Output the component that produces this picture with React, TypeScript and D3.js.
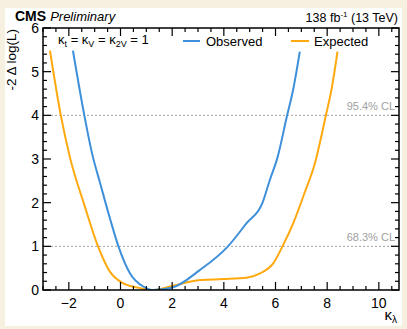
import React from "react";
import * as d3 from "d3";

const observedK = [-1.84, -1.4, -1.09, -0.79, -0.4, -0.08, 0.37, 0.88, 1.27, 1.98, 3.08, 4.16, 4.88, 5.49, 5.78, 6.07, 6.45, 6.68, 6.94];
const observedV = [5.48, 4.0, 3.1, 2.45, 1.62, 1.0, 0.38, 0.08, 0.0, 0.05, 0.46, 1.0, 1.53, 1.99, 2.52, 3.02, 4.0, 4.58, 5.46];
const expectedK = [-2.73, -2.31, -1.95, -1.4, -0.87, -0.41, 0.11, 0.63, 1.26, 1.98, 3.08, 3.98, 4.88, 5.4, 5.91, 6.27, 6.7, 7.14, 7.5, 7.95, 8.17, 8.4];
const expectedV = [5.48, 4.0, 3.02, 1.95, 1.0, 0.42, 0.15, 0.06, 0.0, 0.09, 0.23, 0.25, 0.28, 0.38, 0.61, 1.0, 1.55, 2.25, 2.85, 4.0, 4.6, 5.46];
const xTickLabels = [-2, 0, 2, 4, 6, 8, 10];
const yTickLabels = [0, 1, 2, 3, 4, 5, 6];
const clLevels = [1, 4];
const clLabels = ["68.3% CL", "95.4% CL"];

const W = 407, H = 329;
const L = 43, R = 399, T = 28, B = 290;
const FONT = "'Liberation Sans', Arial, sans-serif";
const BLUE = "#3f90da";
const ORANGE = "#ffa90e";

export default function App() {
  const x = d3.scaleLinear().domain([-3, 10.78]).range([L, R]);
  const y = d3.scaleLinear().domain([0, 6]).range([B, T]);
  const line = d3.line<[number, number]>().x(d => x(d[0])).y(d => y(d[1])).curve(d3.curveMonotoneX);
  const obs = observedK.map((k, i) => [k, observedV[i]] as [number, number]);
  const exp = expectedK.map((k, i) => [k, expectedV[i]] as [number, number]);

  const xMinor = d3.range(-3, 10.8, 0.5).filter(v => Math.abs(v - Math.round(v / 2) * 2) > 1e-6);
  const yMinor = d3.range(0, 6.001, 0.2).filter(v => Math.abs(v - Math.round(v)) > 1e-6);

  return (
    <svg width={W} height={H} style={{ position: "absolute", left: 0, top: 0 }} fontFamily={FONT}>
      <rect x={0} y={0} width={W} height={H} fill="#f5f0df" />
      <rect x={5} y={8} width={397} height={318} fill="#ffffff" />
      {/* CL lines */}
      {clLevels.map((c, i) => (
        <g key={c}>
          <line x1={L} x2={R} y1={y(c)} y2={y(c)} stroke="#a0a0a0" strokeWidth={1} strokeDasharray="2,2" />
          <text x={395} y={y(c) - 5} textAnchor="end" fontSize={11} fill="#a0a0a0">{clLabels[i]}</text>
        </g>
      ))}
      <clipPath id="clip"><rect x={L} y={T} width={R - L} height={B - T} /></clipPath>
      <g clipPath="url(#clip)">
        <path d={line(exp) || ""} fill="none" stroke={ORANGE} strokeWidth={2} />
        <path d={line(obs) || ""} fill="none" stroke={BLUE} strokeWidth={2} />
      </g>
      {/* frame */}
      <rect x={L} y={T} width={R - L} height={B - T} fill="none" stroke="#000" strokeWidth={1.5} />
      {/* x ticks */}
      {xTickLabels.map(v => (
        <g key={"xm" + v}>
          <line x1={x(v)} x2={x(v)} y1={B} y2={B - 8} stroke="#000" strokeWidth={1.2} />
          <line x1={x(v)} x2={x(v)} y1={T} y2={T + 8} stroke="#000" strokeWidth={1.2} />
          <text x={x(v)} y={B + 18} textAnchor="middle" fontSize={14} fill="#000">{v < 0 ? "\u2212" + Math.abs(v) : v}</text>
        </g>
      ))}
      {xMinor.map(v => (
        <g key={"xn" + v}>
          <line x1={x(v)} x2={x(v)} y1={B} y2={B - 4} stroke="#000" strokeWidth={1.2} />
          <line x1={x(v)} x2={x(v)} y1={T} y2={T + 4} stroke="#000" strokeWidth={1.2} />
        </g>
      ))}
      {/* y ticks */}
      {yTickLabels.map(v => (
        <g key={"ym" + v}>
          <line x1={L} x2={L + 8} y1={y(v)} y2={y(v)} stroke="#000" strokeWidth={1.2} />
          <line x1={R} x2={R - 8} y1={y(v)} y2={y(v)} stroke="#000" strokeWidth={1.2} />
          <text x={L - 4} y={y(v) + 5} textAnchor="end" fontSize={14} fill="#000">{v}</text>
        </g>
      ))}
      {yMinor.map(v => (
        <g key={"yn" + v}>
          <line x1={L} x2={L + 4} y1={y(v)} y2={y(v)} stroke="#000" strokeWidth={1.2} />
          <line x1={R} x2={R - 4} y1={y(v)} y2={y(v)} stroke="#000" strokeWidth={1.2} />
        </g>
      ))}
      {/* titles */}
      <text x={15} y={21} fontSize={14} fill="#000">
        <tspan fontWeight="bold">CMS</tspan>
        <tspan fontStyle="italic" dx={4} fontSize={13}>Preliminary</tspan>
      </text>
      <text x={398} y={22} textAnchor="end" fontSize={12.5} fill="#000">
        138 fb<tspan dy={-5} fontSize={8}>-1</tspan><tspan dy={5}> (13 TeV)</tspan>
      </text>
      <text transform={`translate(16,29) rotate(-90)`} textAnchor="end" fontSize={13.5} fill="#000">-2 Δ log(L)</text>
      <text x={397} y={320} textAnchor="end" fontSize={15} fill="#000">
        κ<tspan fontSize={10} dy={3}>λ</tspan>
      </text>
      {/* legend */}
      <text x={58} y={44} fontSize={13} fill="#000">
        κ<tspan fontSize={9} dy={3}>t</tspan><tspan dy={-3}> = κ</tspan><tspan fontSize={9} dy={3}>V</tspan><tspan dy={-3}> = κ</tspan><tspan fontSize={9} dy={3}>2V</tspan><tspan dy={-3}> = 1</tspan>
      </text>
      <line x1={183} x2={200} y1={41} y2={41} stroke={BLUE} strokeWidth={2} />
      <text x={206} y={46} fontSize={13} fill="#000">Observed</text>
      <line x1={291} x2={309} y1={41} y2={41} stroke={ORANGE} strokeWidth={2} />
      <text x={314} y={46} fontSize={13} fill="#000">Expected</text>
    </svg>
  );
}
